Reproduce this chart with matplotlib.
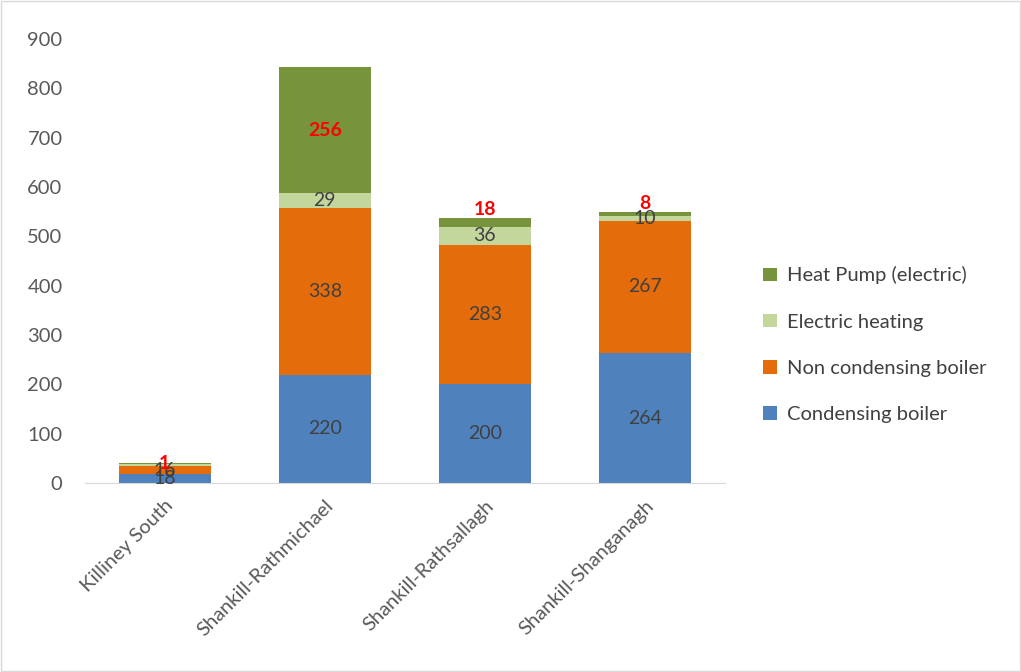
import numpy as np
import matplotlib.pyplot as plt

plt.rcParams['font.family'] = ['Lato', 'DejaVu Sans']

areas = ['Killiney South', 'Shankill-Rathmichael', 'Shankill-Rathsallagh', 'Shankill-Shanganagh']
condensing = [18, 220, 200, 264]
non_condensing = [16, 338, 283, 267]
electric = [5, 29, 36, 10]
heat_pump = [1, 256, 18, 8]

series = [
    ('Condensing boiler', condensing, '#4F81BD'),
    ('Non condensing boiler', non_condensing, '#E46C0A'),
    ('Electric heating', electric, '#C3D69B'),
    ('Heat Pump (electric)', heat_pump, '#77933C'),
]

fig = plt.figure(figsize=(10.21, 6.72), dpi=100)
ax = fig.add_axes([0.083, 0.281, 0.627, 0.661])

x = np.arange(len(areas))
bottom = np.zeros(len(areas))
handles = []
for name, vals, col in series:
    vals = np.array(vals, dtype=float)
    bars = ax.bar(x, vals, 0.575, bottom=bottom, color=col, label=name)
    handles.append(bars)
    for xi, b, v in zip(x, bottom, vals):
        if name == 'Electric heating' and v < 8:
            continue
        if name == 'Heat Pump (electric)':
            if v > 50:
                ax.text(xi, b + v / 2, f'{int(v)}', ha='center', va='center',
                        color='red', fontsize=14, fontweight='bold')
            elif v < 5:
                ax.text(xi, b + v, f'{int(v)}', ha='center', va='center',
                        color='red', fontsize=14, fontweight='bold')
            else:
                ax.text(xi, b + v, f'{int(v)}', ha='center', va='bottom',
                        color='red', fontsize=14, fontweight='bold')
        else:
            ax.text(xi, b + v / 2, f'{int(v)}', ha='center', va='center',
                    color='#404040', fontsize=14)
    bottom += vals

ax.set_ylim(0, 900)
ax.set_yticks(range(0, 901, 100))
ax.set_xlim(-0.5, 3.5)
ax.set_xticks(x)
ax.set_xticklabels(areas, rotation=45, ha='right', rotation_mode='anchor')
ax.tick_params(axis='both', length=0, labelsize=14.5, colors='#595959')
ax.tick_params(axis='x', pad=10)
ax.tick_params(axis='y', pad=16)
for s in ['top', 'right', 'left']:
    ax.spines[s].set_visible(False)
ax.spines['bottom'].set_color('#D9D9D9')

leg = fig.legend(handles[::-1], [s[0] for s in series][::-1], loc='center left',
                 bbox_to_anchor=(0.73, 0.487), frameon=False, fontsize=14.5,
                 labelspacing=1.45, handlelength=0.65, handleheight=0.65,
                 handletextpad=0.5)
for t in leg.get_texts():
    t.set_color('#404040')

fig.patches.append(plt.Rectangle((0.001, 0.001), 0.998, 0.998, transform=fig.transFigure,
                                 fill=False, edgecolor='#D9D9D9', linewidth=1))

fig.savefig('out.png', dpi=100)
